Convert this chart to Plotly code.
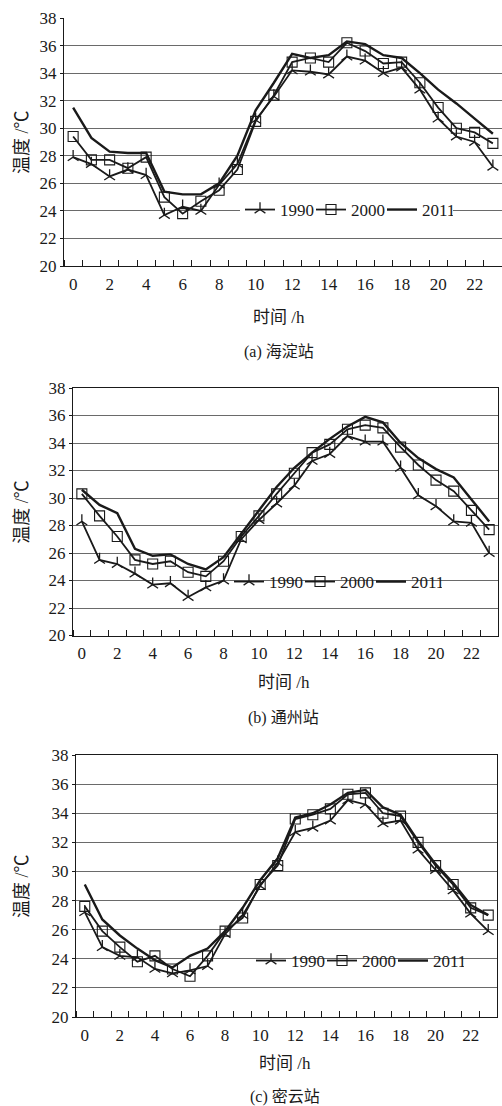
import plotly.graph_objects as go

hours = list(range(24))
years = ["1990", "2000", "2011"]
x_tick_vals = list(range(0, 24, 2))
y_tick_vals = list(range(20, 39, 2))

haidian_1990 = [27.9, 27.4, 26.5, 27.0, 26.6, 23.7, 24.3, 24.0, 25.9, 27.4, 30.6, 32.3, 34.2, 34.1, 33.9, 35.2, 34.9, 34.0, 34.4, 32.8, 30.7, 29.4, 29.0, 27.2]
haidian_2000 = [29.4, 27.7, 27.7, 27.1, 27.9, 25.0, 23.8, 24.7, 25.5, 27.0, 30.5, 32.4, 34.8, 35.1, 34.8, 36.2, 35.6, 34.7, 34.8, 33.3, 31.5, 30.0, 29.7, 28.9]
haidian_2011 = [31.5, 29.3, 28.3, 28.2, 28.2, 25.4, 25.2, 25.2, 26.0, 28.0, 31.3, 33.3, 35.4, 35.1, 35.3, 36.3, 36.1, 35.3, 35.1, 34.0, 32.8, 31.8, 30.7, 29.6]

tongzhou_1990 = [28.3, 25.5, 25.2, 24.5, 23.7, 23.8, 22.8, 23.5, 24.0, 27.0, 28.4, 29.6, 30.9, 32.7, 33.2, 34.5, 34.1, 34.1, 32.2, 30.2, 29.4, 28.3, 28.2, 26.0]
tongzhou_2000 = [30.3, 28.7, 27.2, 25.5, 25.2, 25.4, 24.6, 24.3, 25.4, 27.2, 28.7, 30.3, 31.8, 33.3, 33.9, 35.0, 35.3, 35.1, 33.7, 32.4, 31.3, 30.5, 29.1, 27.7]
tongzhou_2011 = [30.6, 29.5, 28.9, 26.3, 25.8, 25.9, 25.2, 24.8, 25.7, 27.4, 29.1, 30.8, 32.2, 33.3, 34.3, 35.2, 35.9, 35.5, 34.0, 32.9, 32.1, 31.5, 29.9, 28.3]

miyun_1990 = [27.2, 24.8, 24.2, 24.1, 23.3, 23.0, 23.2, 23.5, 25.7, 27.0, 29.0, 30.6, 32.7, 33.0, 33.5, 34.9, 34.6, 33.3, 33.5, 31.5, 30.1, 28.7, 27.1, 25.9]
miyun_2000 = [27.6, 25.9, 24.8, 23.8, 24.2, 23.3, 22.8, 24.2, 25.9, 26.8, 29.1, 30.4, 33.6, 33.9, 34.3, 35.3, 35.4, 34.0, 33.8, 32.0, 30.4, 29.1, 27.5, 27.0]
miyun_2011 = [29.1, 26.7, 25.6, 24.7, 23.9, 23.4, 24.2, 24.7, 25.9, 27.5, 29.4, 30.9, 33.7, 34.0, 34.6, 35.4, 35.6, 34.4, 33.9, 32.1, 30.5, 29.2, 27.7, 27.0]

stations = ["(a) 海淀站", "(b) 通州站", "(c) 密云站"]
y_title = "温度 /℃"
x_title = "时间 /h"

W, H = 502, 1106
SERIF = "'Liberation Serif', 'Noto Sans CJK SC', serif"
INK = "#1a1a1a"

panels = [
    # (series, x px left, x px right, y px top(38), y px bottom(20), legend x px, legend y px, legend bg)
    ([haidian_1990, haidian_2000, haidian_2011], 64, 502, 18, 266, 240, 210, "white"),
    ([tongzhou_1990, tongzhou_2000, tongzhou_2011], 73, 498, 388, 635.5, 229, 582, "rgba(0,0,0,0)"),
    ([miyun_1990, miyun_2000, miyun_2011], 76, 497, 755, 1017, 251, 961, "rgba(0,0,0,0)"),
]
xtitle_y = [317, 682, 1063]
caption_y = [352, 718, 1097]

styles = [
    dict(mode="lines+markers", line=dict(color=INK, width=1.8),
         marker=dict(symbol="y-up-open", size=9, color=INK, line=dict(color=INK, width=1.3))),
    dict(mode="lines+markers", line=dict(color=INK, width=1.8),
         marker=dict(symbol="square-open", size=10, color=INK, line=dict(color=INK, width=1.1))),
    dict(mode="lines", line=dict(color=INK, width=2.4)),
]

fig = go.Figure()
layout = dict(width=W, height=H, margin=dict(l=0, r=0, t=0, b=0, autoexpand=False),
              paper_bgcolor="white", plot_bgcolor="white",
              font=dict(family=SERIF, size=17, color=INK))
annotations = []

for i, (series, xl, xr, yt, yb, lx, ly, lbg) in enumerate(panels):
    n = "" if i == 0 else str(i + 1)
    leg = "legend" if i == 0 else f"legend{i + 1}"
    for j, (vals, yr) in enumerate(zip(series, years)):
        fig.add_trace(go.Scatter(x=hours, y=vals, name=yr, xaxis=f"x{n}", yaxis=f"y{n}",
                                 legend=leg, showlegend=True, **styles[j]))
    layout[f"xaxis{n}"] = dict(
        domain=[xl / W, xr / W], anchor=f"y{n}", range=[-0.5, 23.5],
        tickmode="array", tickvals=x_tick_vals, ticktext=[str(v) for v in x_tick_vals],
        ticks="", showgrid=False, zeroline=False, automargin=False,
        showline=True, linecolor=INK, linewidth=1.2, mirror=(i > 0),
        tickfont=dict(size=17), ticklabelstandoff=2,
        minor=dict(tickmode="linear", tick0=0.5, dtick=1, ticks="inside", ticklen=6,
                   tickcolor=INK, tickwidth=1, showgrid=False),
    )
    layout[f"yaxis{n}"] = dict(
        domain=[1 - yb / H, 1 - yt / H], anchor=f"x{n}", range=[20, 38],
        tickmode="array", tickvals=y_tick_vals, ticks="outside", ticklen=3,
        tickcolor=INK, showgrid=True, gridcolor="#6a6a6a", gridwidth=1, automargin=False,
        zeroline=False, showline=True, linecolor=INK, linewidth=1.2, mirror=(i > 0),
        tickfont=dict(size=17),
    )
    layout[leg] = dict(orientation="h", x=lx / W, y=1 - ly / H, xanchor="left", yanchor="middle",
                       bgcolor=lbg, font=dict(size=17, family=SERIF), itemwidth=30,
                       entrywidth=26, entrywidthmode="pixels",
                       tracegroupgap=0, borderwidth=0, itemsizing="trace")
    annotations.append(dict(text=y_title, x=22 / W, y=1 - (yt + yb) / 2 / H, xref="paper", yref="paper",
                            textangle=-90, showarrow=False, font=dict(size=18, family=SERIF),
                            xanchor="center", yanchor="middle"))
    cx = (xl + min(xr, 494)) / 2 / W
    annotations.append(dict(text=x_title, x=cx, y=1 - xtitle_y[i] / H, xref="paper", yref="paper",
                            showarrow=False, font=dict(size=17, family=SERIF),
                            xanchor="center", yanchor="middle"))
    annotations.append(dict(text=stations[i], x=cx, y=1 - caption_y[i] / H, xref="paper", yref="paper",
                            showarrow=False, font=dict(size=16, family=SERIF),
                            xanchor="center", yanchor="middle"))

layout["annotations"] = annotations
fig.update_layout(**layout)
fig.write_html("out.html", config={"displayModeBar": False, "staticPlot": True},
               post_script="document.body.style.margin='0';document.body.style.overflow='hidden';")
